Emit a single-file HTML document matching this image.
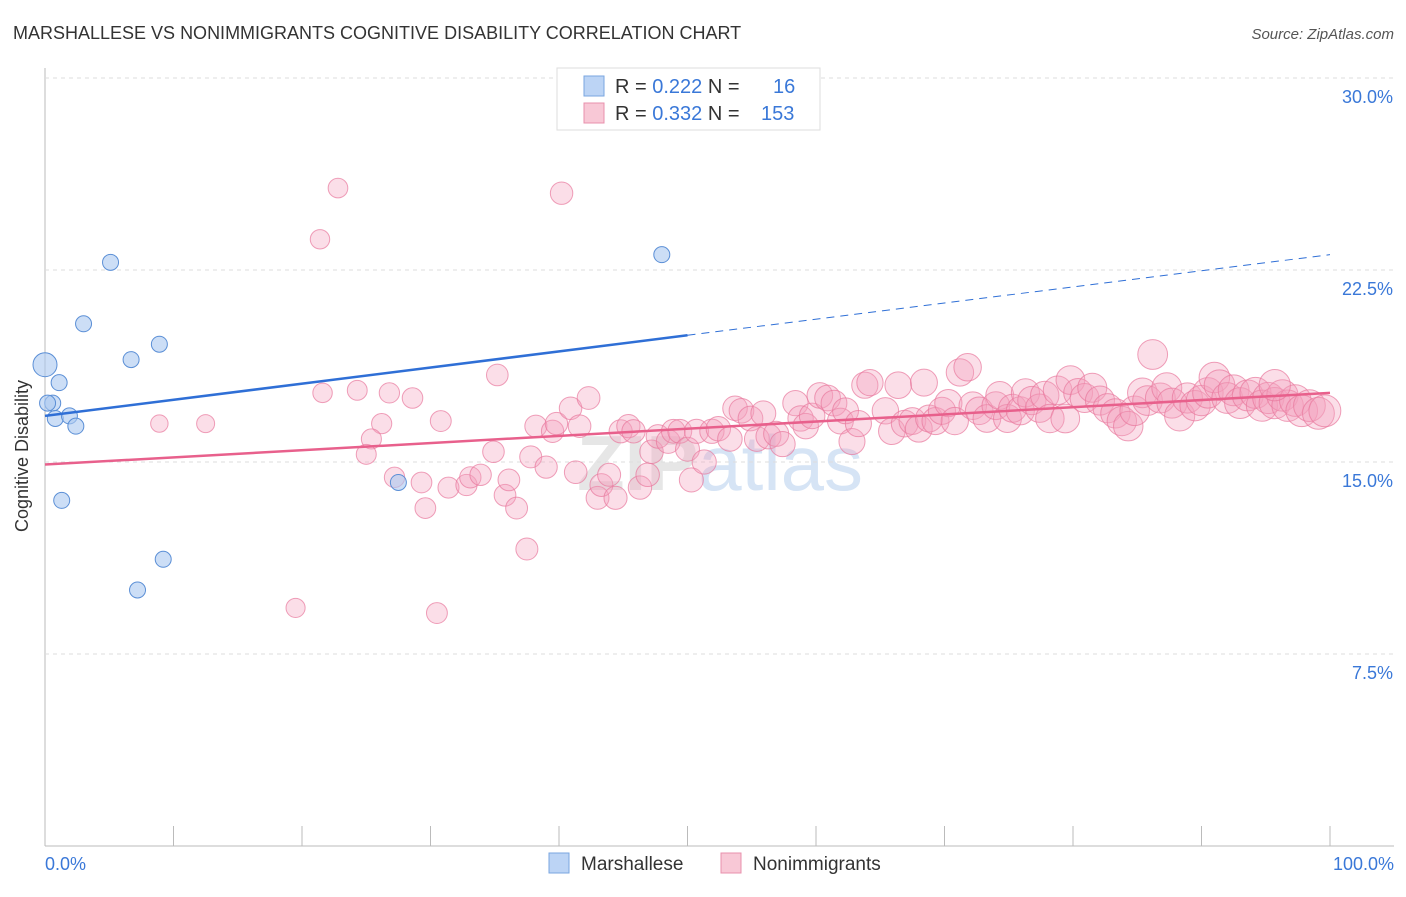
<!DOCTYPE html>
<html><head><meta charset="utf-8"><style>
body{margin:0;background:#fff;font-family:"Liberation Sans",sans-serif;}
svg text{font-family:"Liberation Sans",sans-serif;}
</style></head><body>
<svg id="c" width="1406" height="892">
<text x="13" y="39" font-size="18" fill="#333">MARSHALLESE VS NONIMMIGRANTS COGNITIVE DISABILITY CORRELATION CHART</text>
<text x="1394" y="39" font-size="15" fill="#555" font-style="italic" text-anchor="end">Source: ZipAtlas.com</text>
<text x="720" y="490" font-size="78" font-weight="bold" fill="#e6e6e6" text-anchor="middle">ZIP<tspan fill="#d6e4f5" font-weight="normal">atlas</tspan></text>
<g id="grid"></g><g id="marks"></g>
<text x="28" y="456" font-size="18" fill="#333" text-anchor="middle" transform="rotate(-90 28 456)">Cognitive Disability</text>
<g>
<rect x="557" y="68" width="263" height="62" fill="#fff" stroke="#ddd"/>
<rect x="584" y="76" width="20" height="20" fill="#bcd4f5" stroke="#7aa6e0"/>
<text x="615" y="93" font-size="20" fill="#333">R = <tspan fill="#3a78d8">0.222</tspan>   N =  <tspan fill="#3a78d8" x="773">16</tspan></text>
<rect x="584" y="103" width="20" height="20" fill="#f8c8d6" stroke="#e890ac"/>
<text x="615" y="120" font-size="20" fill="#333">R = <tspan fill="#3a78d8">0.332</tspan>   N = <tspan fill="#3a78d8" x="761">153</tspan></text>
</g>
<g>
<rect x="549" y="853" width="20" height="20" fill="#bcd4f5" stroke="#7aa6e0"/>
<text x="581" y="870" font-size="19" fill="#333">Marshallese</text>
<rect x="721" y="853" width="20" height="20" fill="#f8c8d6" stroke="#e890ac"/>
<text x="753" y="870" font-size="19" fill="#333">Nonimmigrants</text>
</g>
</svg>
<script>
const yTicks=[7.5,15,22.5,30];
const blueX=[0,1.1,0.6,0.8,1.9,2.4,1.3,3.0,5.1,6.7,8.9,9.2,7.2,27.5,48.0,0.2];
const blueY=[18.8,18.1,17.3,16.7,16.8,16.4,13.5,20.4,22.8,19.0,19.6,11.2,10.0,14.2,23.1,17.3];
const pinkX=[22.8,40.2,21.4,35.2,21.6,24.3,26.8,28.6,8.9,12.5,26.2,30.8,25.4,25.0,27.2,29.3,29.6,31.4,32.8,33.1,33.9,34.9,35.8,36.1,36.7,37.5,19.5,30.5,37.8,38.2,39.0,39.5,39.8,40.9,41.3,41.6,42.3,43.0,43.3,43.9,44.4,44.8,45.4,45.8,46.3,46.9,47.2,47.7,48.5,48.9,49.4,50.0,50.3,50.7,51.3,51.9,52.4,53.3,53.7,54.2,54.9,55.4,55.9,56.3,56.9,57.4,58.4,58.8,59.2,59.7,60.3,60.9,61.4,61.9,62.3,62.8,63.3,63.8,64.2,65.4,65.9,66.4,66.9,67.5,68.0,68.4,68.8,69.3,69.8,70.3,70.8,71.2,71.8,72.2,72.7,73.3,74.0,74.3,74.9,75.3,75.9,76.3,76.8,77.4,77.8,78.2,78.8,79.4,79.8,80.4,80.9,81.5,82.1,82.7,83.3,83.8,84.3,84.8,85.4,85.8,86.2,86.8,87.3,87.7,88.3,88.9,89.5,90.0,90.5,91.0,91.4,92.0,92.5,93.0,93.6,94.2,94.7,95.2,95.7,96.3,96.7,97.3,97.8,98.4,99.1,99.6,95.7];
const pinkY=[25.7,25.5,23.7,18.4,17.7,17.8,17.7,17.5,16.5,16.5,16.5,16.6,15.9,15.3,14.4,14.2,13.2,14.0,14.1,14.4,14.5,15.4,13.7,14.3,13.2,11.6,9.3,9.1,15.2,16.4,14.8,16.2,16.5,17.1,14.6,16.4,17.5,13.6,14.1,14.5,13.6,16.2,16.4,16.2,14.0,14.5,15.4,16.0,15.8,16.2,16.2,15.5,14.3,16.2,15.0,16.2,16.3,15.9,17.1,17.0,16.7,15.9,16.9,16.0,16.1,15.7,17.3,16.7,16.4,16.8,17.6,17.5,17.3,16.6,17.0,15.8,16.5,18.0,18.1,17.0,16.2,18.0,16.5,16.6,16.3,18.1,16.7,16.6,17.0,17.3,16.6,18.5,18.7,17.2,17.0,16.7,17.2,17.6,16.7,17.1,17.0,17.7,17.4,17.1,17.6,16.7,17.8,16.7,18.2,17.7,17.5,17.9,17.4,17.1,16.9,16.6,16.4,17.0,17.7,17.4,19.2,17.5,17.9,17.3,16.8,17.5,17.2,17.4,17.7,18.3,18.0,17.5,17.8,17.3,17.6,17.7,17.2,17.5,17.3,17.6,17.2,17.4,17.0,17.2,16.9,17.0,18.0];
const blueTrend=[16.8,23.1], pinkTrend=[14.9,17.7];
const X=v=>45+v*12.85, Y=v=>846-v*25.6;
const NS='http://www.w3.org/2000/svg';
const grid=document.getElementById('grid'), marks=document.getElementById('marks');
function mk(p,tag,a){const e=document.createElementNS(NS,tag);for(const k in a)e.setAttribute(k,a[k]);p.appendChild(e);return e;}
const ax=mk(grid,'line',{x1:45,y1:846,x2:1394,y2:846,stroke:'#bbb'});


const ay=mk(grid,'line',{x1:45,y1:68,x2:45,y2:846,stroke:'#bbb'});


for(let i=1;i<=10;i++){const t=mk(grid,'line',{x1:X(i*10),y1:826,x2:X(i*10),y2:846,stroke:'#bbb'});

}
yTicks.forEach(v=>{const g=mk(grid,'line',{x1:45,y1:Y(v),x2:1394,y2:Y(v),stroke:'#ddd','stroke-dasharray':'4,4'});


const t=mk(grid,'text',{x:1393,y:Y(v)+25,'font-size':18,fill:'#3a78d8','text-anchor':'end'});t.textContent=v.toFixed(1)+'%';

});
const x0=mk(grid,'text',{x:45,y:870,'font-size':18,fill:'#3a78d8'});x0.textContent='0.0%';


const x1=mk(grid,'text',{x:1394,y:870,'font-size':18,fill:'#3a78d8','text-anchor':'end'});x1.textContent='100.0%';


pinkX.forEach((v,i)=>{const c=mk(marks,'circle',{cx:X(v),cy:Y(pinkY[i]),r:8+v*0.08,fill:'rgba(244,160,188,0.35)',stroke:'rgba(232,120,156,0.7)'});

});
blueX.forEach((v,i)=>{const c=mk(marks,'circle',{cx:X(v),cy:Y(blueY[i]),r:i==0?12:8,fill:'rgba(170,200,240,0.6)',stroke:'#5b8fd6'});

});
const bm=blueTrend[0]+(blueTrend[1]-blueTrend[0])*0.5;
const l1=mk(marks,'line',{x1:X(0),y1:Y(blueTrend[0]),x2:X(50),y2:Y(bm),stroke:'#2f6fd6','stroke-width':2.5});


const l2=mk(marks,'line',{x1:X(50),y1:Y(bm),x2:X(100),y2:Y(blueTrend[1]),stroke:'#2f6fd6','stroke-width':1,'stroke-dasharray':'8,6'});


const l3=mk(marks,'line',{x1:X(0),y1:Y(pinkTrend[0]),x2:X(100),y2:Y(pinkTrend[1]),stroke:'#e8608c','stroke-width':2.5});


</script>
</body></html>
